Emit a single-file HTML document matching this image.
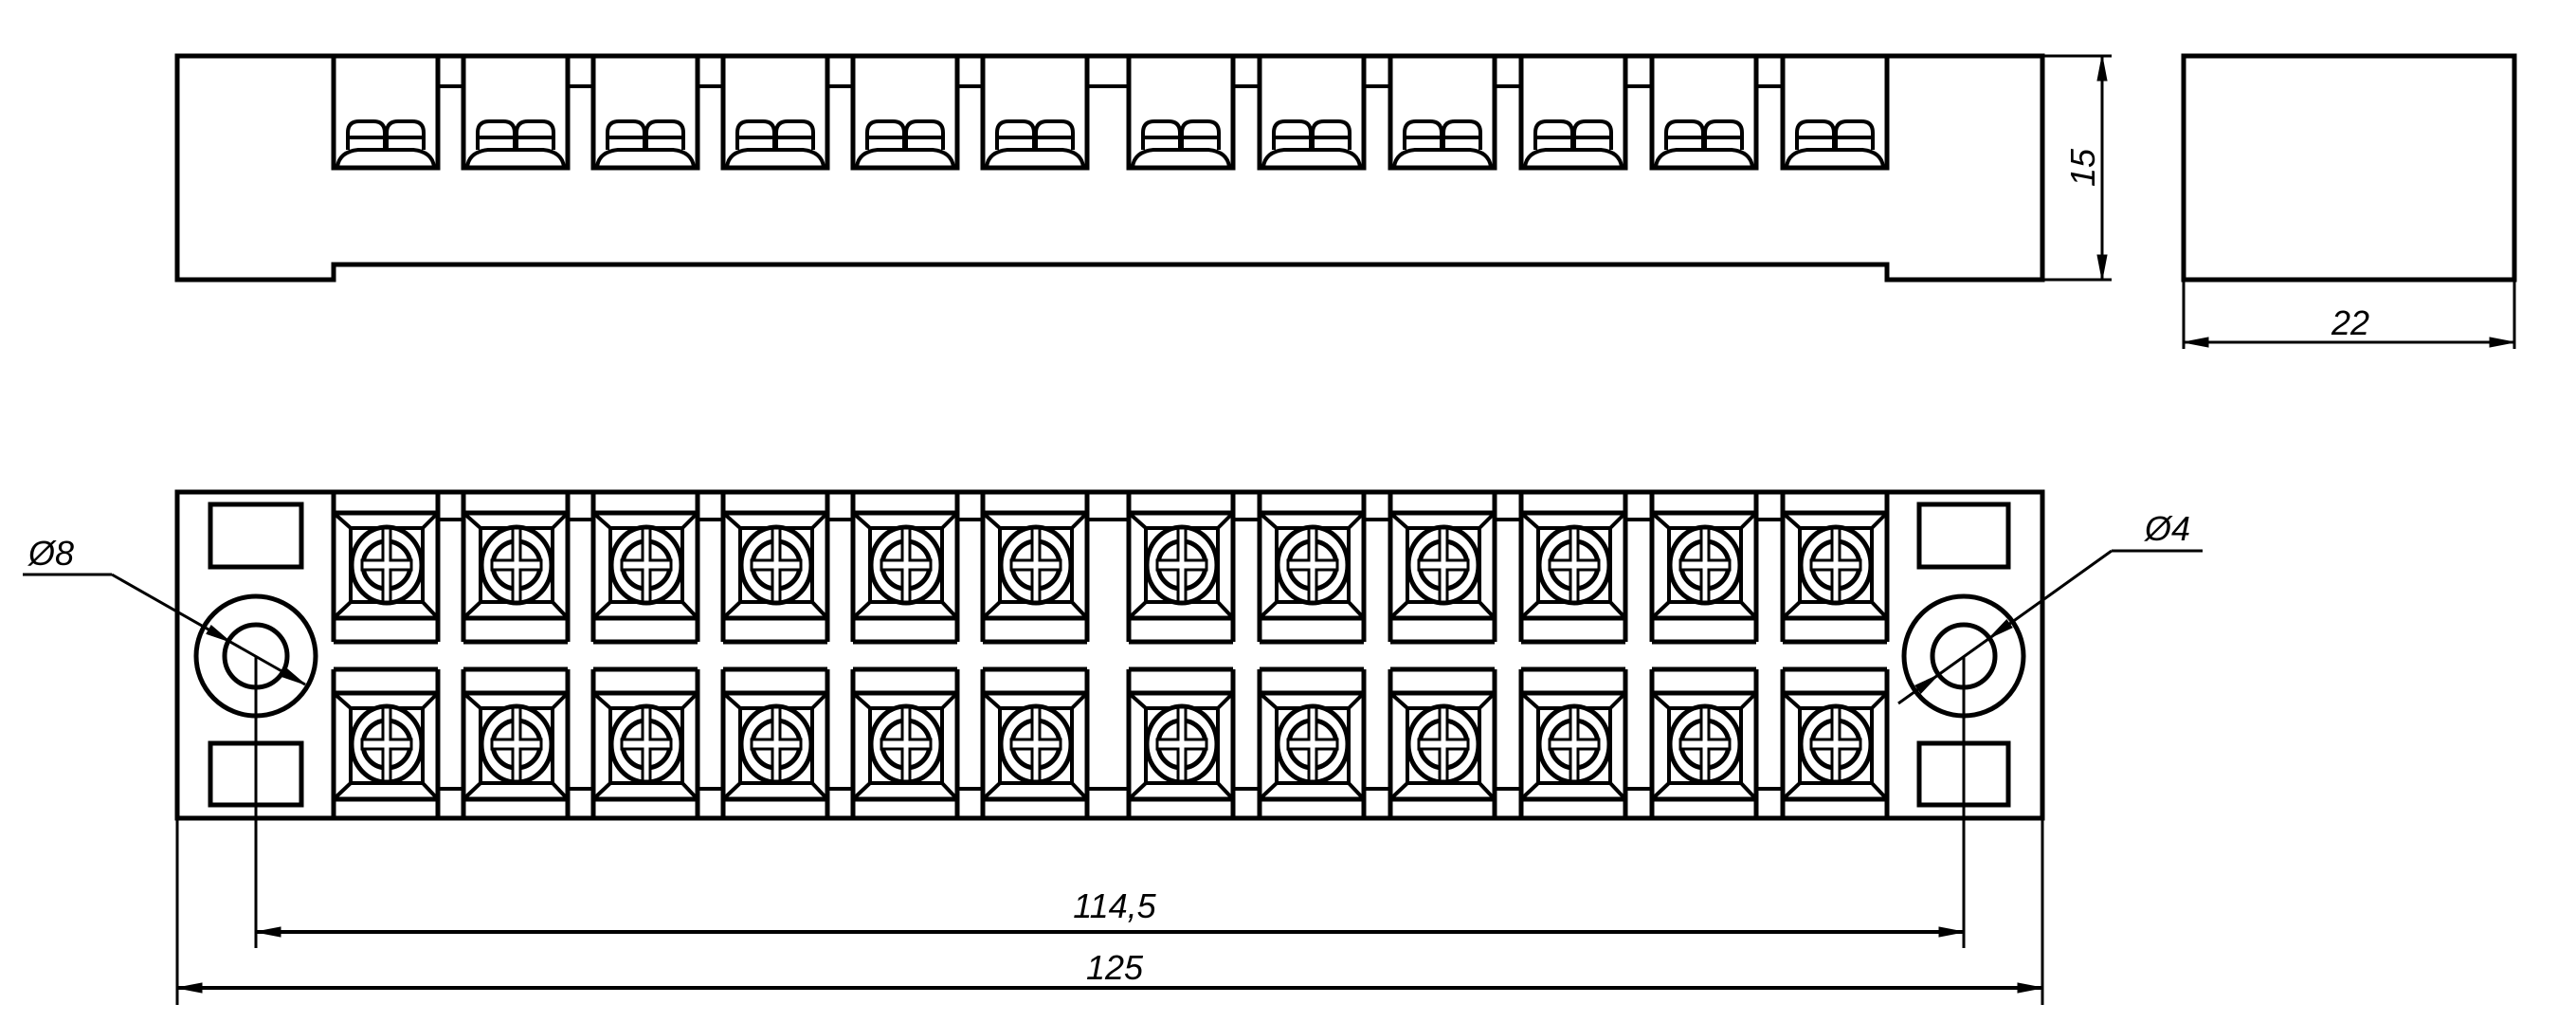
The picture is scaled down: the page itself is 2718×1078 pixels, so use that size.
<!DOCTYPE html>
<html><head><meta charset="utf-8"><style>
html,body{margin:0;padding:0;background:#fff;}
svg{display:block;}
text{font-family:"Liberation Sans",sans-serif;font-style:italic;fill:#000;}
</style></head><body>
<svg id="s" width="2718" height="1078" viewBox="0 0 2718 1078" xmlns="http://www.w3.org/2000/svg">
<g id="g" fill="none" stroke="#000" stroke-width="5" stroke-linejoin="miter"></g>
<text x="1176" y="968" font-size="36" text-anchor="middle">114,5</text>
<text x="1176" y="1033" font-size="36" text-anchor="middle">125</text>
<text x="2480" y="353" font-size="36" text-anchor="middle">22</text>
<text x="0" y="0" font-size="36" text-anchor="middle" transform="translate(2210,177) rotate(-90)">15</text>
<text x="30" y="596" font-size="36">Ø8</text>
<text x="2263" y="570" font-size="36">Ø4</text>
</svg>
<script>
var g=document.getElementById('g'),NS='http://www.w3.org/2000/svg';
function el(t,a){var e=document.createElementNS(NS,t);for(var k in a)e.setAttribute(k,a[k]);g.appendChild(e);return e;}
function L(x1,y1,x2,y2,w){el('line',{x1:x1,y1:y1,x2:x2,y2:y2,'stroke-width':w||5});}
function P(d,w,f){el('path',{d:d,'stroke-width':w||5,fill:f||'none'});}
function arrow(tx,ty,fx,fy){var dx=fx-tx,dy=fy-ty,l=Math.hypot(dx,dy);dx/=l;dy/=l;var len=26,w=5;
 var bx=tx+dx*len,by=ty+dy*len;el('polygon',{points:tx+','+ty+' '+(bx-dy*w)+','+(by+dx*w)+' '+(bx+dy*w)+','+(by-dx*w),fill:'#000','stroke-width':1});}
var xs=[352,489,626,763,900,1037,1191,1329,1467,1605,1743,1881],W=110;
var R=2155,SR=1991;
// top view
P('M187,59 H'+R+' V295 H'+SR+' V279 H352 V295 H187 Z');
for(var i=0;i<12;i++){var x=xs[i];
 P('M'+x+',59 V177 H'+(x+W)+' V59');
 if(i<11)L(x+W,91,xs[i+1],91,4);
 P('M'+(x+15)+',158 V140 Q'+(x+15)+',128 '+(x+27)+',128 H'+(x+42)+' Q'+(x+54)+',128 '+(x+54)+',140 V158',4);
 P('M'+(x+56)+',158 V140 Q'+(x+56)+',128 '+(x+68)+',128 H'+(x+83)+' Q'+(x+95)+',128 '+(x+95)+',140 V158',4);
 L(x+15,145,x+95,145,4);
 P('M'+(x+4)+',176 Q'+(x+6)+',160 '+(x+26)+',158 H'+(x+84)+' Q'+(x+104)+',160 '+(x+106)+',176',4);
}
// side view
P('M2304,59 H2653 V295 H2304 Z');
L(R,59,2228,59,3);L(R,295,2228,295,3);L(2218,59,2218,295,3);arrow(2218,59,2218,295);arrow(2218,295,2218,59);
L(2304,295,2304,368,3);L(2653,295,2653,368,3);L(2304,361,2653,361,3);arrow(2304,361,2653,361);arrow(2653,361,2304,361);
// front view
P('M187,519 H'+R+' V863 H187 Z');
function cell(x,cy,top){
 var y0=top?519:706,y1=top?677:863,b1=top?541:731,b2=top?652:843;
 P('M'+x+','+y0+' V'+y1+' M'+(x+W)+','+y0+' V'+y1+' M'+x+','+y0+' H'+(x+W)+' M'+x+','+y1+' H'+(x+W));
 L(x,b1,x+W,b1);L(x,b2,x+W,b2);
 var ix=x+18,ix2=x+W-16,iy=b1+16,iy2=b2-17;
 el('rect',{x:ix,y:iy,width:ix2-ix,height:iy2-iy,'stroke-width':4});
 L(x,b1,ix,iy,4);L(x+W,b1,ix2,iy,4);L(x,b2,ix,iy2,4);L(x+W,b2,ix2,iy2,4);
 var cx=x+56;
 el('ellipse',{cx:cx,cy:cy,rx:37,ry:40,'stroke-width':5,fill:'#fff'});
 el('circle',{cx:cx,cy:cy,r:25,'stroke-width':5});
 P('M'+(cx-4)+','+(cy-39)+' V'+(cy-5)+' H'+(cx-26)+' V'+(cy+5)+' H'+(cx-4)+' V'+(cy+39)+' H'+(cx+4)+' V'+(cy+5)+' H'+(cx+26)+' V'+(cy-5)+' H'+(cx+4)+' V'+(cy-39)+' Z',3,'#fff');
}
for(var i=0;i<12;i++){cell(xs[i],596,true);cell(xs[i],785,false);
 if(i<11){L(xs[i]+W,548,xs[i+1],548,4);L(xs[i]+W,832,xs[i+1],832,4);}}
// ends
el('rect',{x:222,y:532,width:96,height:66});el('rect',{x:222,y:784,width:96,height:65});
el('rect',{x:2025,y:532,width:94,height:66});el('rect',{x:2025,y:784,width:94,height:65});
el('circle',{cx:270,cy:692,r:63});el('circle',{cx:270,cy:692,r:33});
el('circle',{cx:2072,cy:692,r:63});el('circle',{cx:2072,cy:692,r:33});
// Ø8 leader
L(24,606,118,606,3);L(118,606,322,722,3);arrow(322,722,118,606);arrow(243,677,118,606);
// Ø4 leader
L(2228,581,2324,581,3);L(2228,581,2003,742,3);arrow(2099,673,2228,581);arrow(2045,712,2003,742);
// dims
L(270,692,270,1000,3);L(2072,692,2072,1000,3);L(187,863,187,1060,3);L(R,863,R,1060,3);
L(270,983,2072,983,4);arrow(270,983,2072,983);arrow(2072,983,270,983);
L(187,1042,R,1042,4);arrow(187,1042,R,1042);arrow(R,1042,187,1042);
</script>
</body></html>
